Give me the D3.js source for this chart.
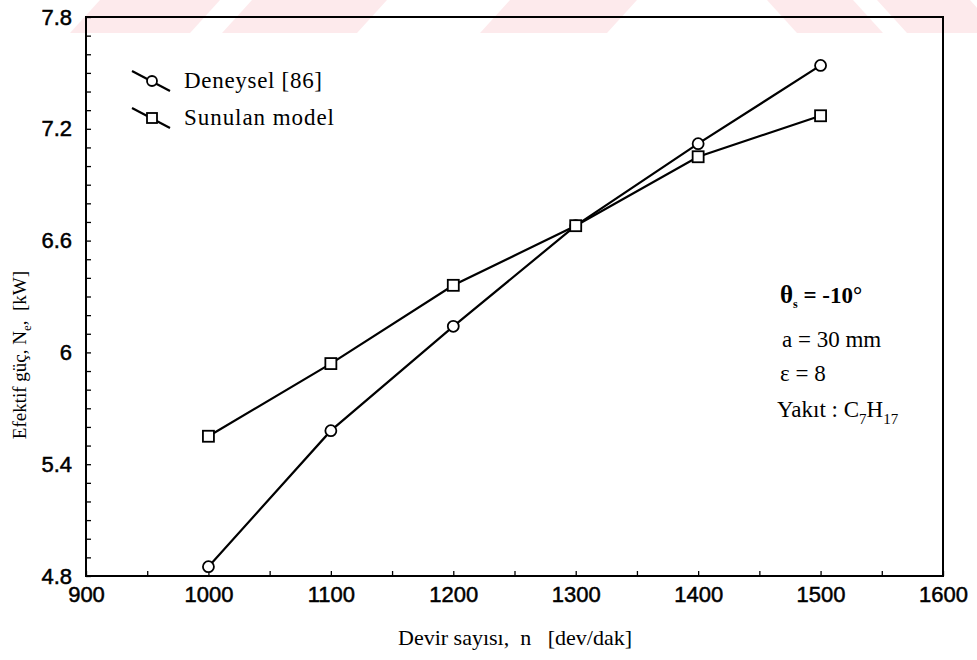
<!DOCTYPE html>
<html>
<head>
<meta charset="utf-8">
<script src="https://cdn.jsdelivr.net/npm/d3@7"></script>
<style>
  body { margin: 0; background: #fff; }
  svg { display: block; }
</style>
</head>
<body>
<div id="chart"></div>
<script>
// Data
const rpm = [1000, 1100, 1200, 1300, 1400, 1500];
const deneysel = [4.85, 5.58, 6.14, 6.68, 7.12, 7.54];
const sunulan = [5.55, 5.94, 6.36, 6.68, 7.05, 7.27];
const xTicks = [900, 1000, 1100, 1200, 1300, 1400, 1500, 1600];
const yTicks = [4.8, 5.4, 6, 6.6, 7.2, 7.8];
const seriesNames = ["Deneysel [86]", "Sunulan model"];

const W = 977, H = 660;
const margin = { top: 17, right: 34, bottom: 84, left: 86 };
const width = W - margin.left - margin.right;
const height = H - margin.top - margin.bottom;

const svg = d3.select("#chart").append("svg")
  .attr("width", W)
  .attr("height", H);

// faint pink watermark stripes at the top
const stripes = [[70, 190, 1], [222, 357, 1], [480, 607, 1], [797, 883, -1], [907, 1000, -1]];
svg.append("g").selectAll("path")
  .data(stripes)
  .enter().append("path")
  .attr("d", d => `M${d[0]},33L${d[1]},33L${d[1] + 30 * d[2]},0L${d[0] + 30 * d[2]},0Z`)
  .attr("fill", "#fdeaec");

const g = svg.append("g")
  .attr("transform", `translate(${margin.left},${margin.top})`);

const x = d3.scaleLinear().domain([900, 1600]).range([0, width]);
const y = d3.scaleLinear().domain([4.8, 7.8]).range([height, 0]);

const tickFont = "'Liberation Sans', Arial, sans-serif";
const serif = "'Liberation Serif', 'Times New Roman', serif";

// frame
g.append("rect")
  .attr("width", width)
  .attr("height", height)
  .attr("fill", "none")
  .attr("stroke", "#000")
  .attr("stroke-width", 2);

// minor inward ticks
g.append("g")
  .attr("transform", `translate(0,${height})`)
  .call(d3.axisBottom(x).tickValues(d3.range(900, 1601, 50)).tickSize(-5).tickFormat(""))
  .call(s => s.select(".domain").remove())
  .selectAll("line").attr("stroke-width", 1.3);

g.append("g")
  .call(d3.axisLeft(y).tickValues(d3.range(48, 79, 1).map(v => v / 10)).tickSize(-5).tickFormat(""))
  .call(s => s.select(".domain").remove())
  .selectAll("line").attr("stroke-width", 1.3);

// tick labels
const xAxis = g.append("g")
  .attr("transform", `translate(0,${height})`)
  .call(d3.axisBottom(x).tickValues(xTicks).tickSize(0).tickPadding(10).tickFormat(d3.format("d")));
xAxis.select(".domain").remove();
xAxis.selectAll("text")
  .attr("font-family", tickFont)
  .attr("font-size", 22)
  .attr("fill", "#000")
  .attr("stroke", "#000")
  .attr("stroke-width", 0.5);

const yAxis = g.append("g")
  .call(d3.axisLeft(y).tickValues(yTicks).tickSize(0).tickPadding(14).tickFormat(d => String(d)));
yAxis.select(".domain").remove();
yAxis.selectAll("text")
  .attr("font-family", tickFont)
  .attr("font-size", 22)
  .attr("fill", "#000")
  .attr("stroke", "#000")
  .attr("stroke-width", 0.5);

// lines
const line = d3.line()
  .x((d, i) => x(rpm[i]))
  .y(d => y(d));

[deneysel, sunulan].forEach(vals => {
  g.append("path")
    .attr("d", line(vals))
    .attr("fill", "none")
    .attr("stroke", "#000")
    .attr("stroke-width", 2.2);
});

// markers
g.selectAll(".circ")
  .data(deneysel)
  .enter().append("circle")
  .attr("cx", (d, i) => x(rpm[i]))
  .attr("cy", d => y(d))
  .attr("r", 5.5)
  .attr("fill", "#fff")
  .attr("stroke", "#000")
  .attr("stroke-width", 1.8);

g.selectAll(".sq")
  .data(sunulan)
  .enter().append("rect")
  .attr("x", (d, i) => x(rpm[i]) - 5.5)
  .attr("y", d => y(d) - 5.5)
  .attr("width", 11)
  .attr("height", 11)
  .attr("fill", "#fff")
  .attr("stroke", "#000")
  .attr("stroke-width", 1.8);

// legend
const legend = svg.append("g");
seriesNames.forEach((name, i) => {
  const ly = 81 + i * 37;
  const row = legend.append("g").attr("transform", `translate(152,${ly})`);
  row.append("line")
    .attr("x1", -20).attr("y1", -10).attr("x2", 18).attr("y2", 10)
    .attr("stroke", "#000").attr("stroke-width", 2.2);
  if (i === 0) {
    row.append("circle").attr("r", 5)
      .attr("fill", "#fff").attr("stroke", "#000").attr("stroke-width", 1.8);
  } else {
    row.append("rect").attr("x", -5).attr("y", -5).attr("width", 10).attr("height", 10)
      .attr("fill", "#fff").attr("stroke", "#000").attr("stroke-width", 1.8);
  }
  row.append("text")
    .attr("x", 32)
    .attr("y", 7)
    .attr("font-family", serif)
    .attr("font-size", 23)
    .attr("textLength", i === 0 ? 138 : 150)
    .text(name);
});

// parameter annotation
const ann = svg.append("g").attr("font-family", serif).attr("font-size", 23).attr("fill", "#000");
const t1 = ann.append("text").attr("x", 780).attr("y", 303).attr("font-weight", "bold");
t1.append("tspan").attr("font-size", 25).text("θ");
t1.append("tspan").attr("dy", 5).attr("font-size", 12).text("s");
t1.append("tspan").attr("dy", -5).text(" = -10°");

ann.append("text").attr("x", 782).attr("y", 347).text("a = 30 mm");
ann.append("text").attr("x", 780).attr("y", 381).text("ε = 8");

const t4 = ann.append("text").attr("x", 777).attr("y", 417);
t4.append("tspan").text("Yakıt : C");
t4.append("tspan").attr("dy", 7).attr("font-size", 15).text("7");
t4.append("tspan").attr("dy", -7).text("H");
t4.append("tspan").attr("dy", 7).attr("font-size", 15).text("17");

// axis titles
svg.append("text")
  .attr("x", 515)
  .attr("y", 645)
  .attr("text-anchor", "middle")
  .attr("font-family", serif)
  .attr("font-size", 22)
  .attr("xml:space", "preserve")
  .text("Devir sayısı,  n   [dev/dak]");

const yt = svg.append("text")
  .attr("transform", "translate(26,355) rotate(-90)")
  .attr("text-anchor", "middle")
  .attr("font-family", serif)
  .attr("font-size", 19)
  .attr("xml:space", "preserve");
yt.append("tspan").text("Efektif güç, N");
yt.append("tspan").attr("dy", 5).attr("font-size", 13).text("e");
yt.append("tspan").attr("dy", -5).text(",  [kW]");
</script>
</body>
</html>
